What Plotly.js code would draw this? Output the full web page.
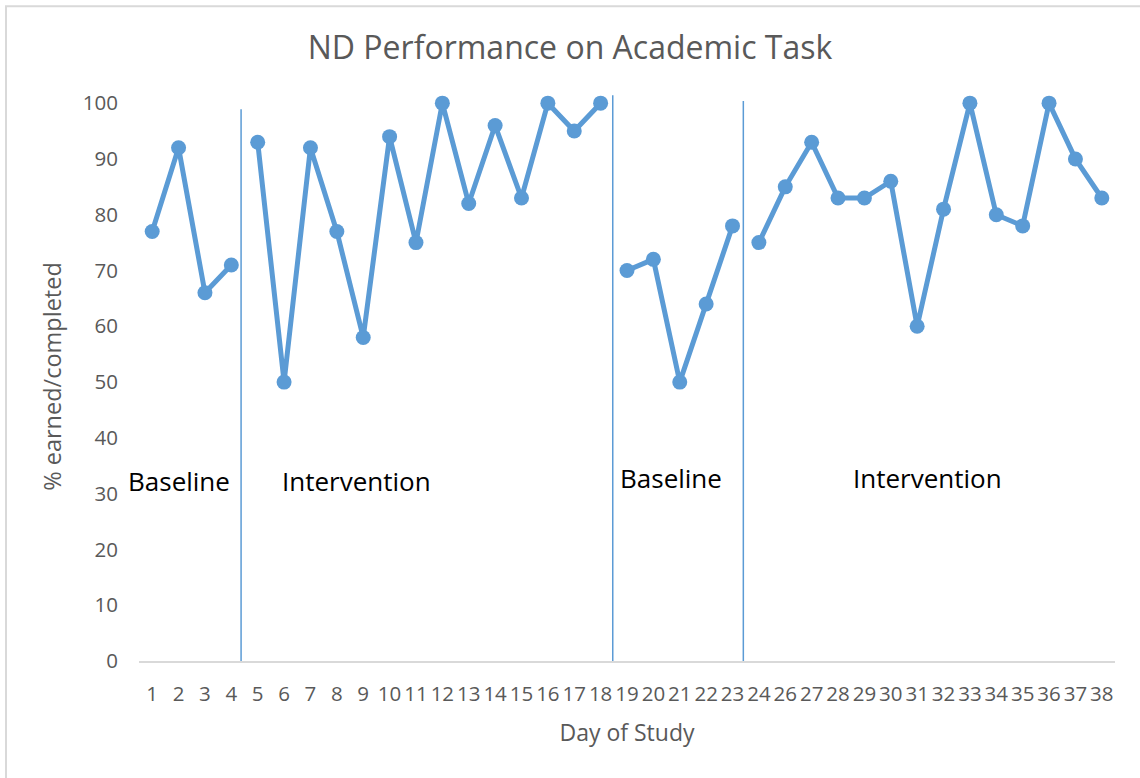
<!DOCTYPE html>
<html>
<head>
<meta charset="utf-8">
<script src="https://cdn.plot.ly/plotly-3.0.1.min.js"></script>
<style>html,body{margin:0;padding:0;background:#fff;}#chart{width:1140px;height:778px;}</style>
</head>
<body>
<div id="chart"></div>
<script>
// Day labels (day 25 absent in the original)
const days = ["1","2","3","4","5","6","7","8","9","10","11","12","13","14","15","16","17","18","19","20","21","22","23","24","26","27","28","29","30","31","32","33","34","35","36","37","38"];

// Phase 1: Baseline
const baseline1Days = ["1","2","3","4"];
const baseline1Vals = [77, 92, 66, 71];
// Phase 2: Intervention
const intervention1Days = ["5","6","7","8","9","10","11","12","13","14","15","16","17","18"];
const intervention1Vals = [93, 50, 92, 77, 58, 94, 75, 100, 82, 96, 83, 100, 95, 100];
// Phase 3: Baseline
const baseline2Days = ["19","20","21","22","23"];
const baseline2Vals = [70, 72, 50, 64, 78];
// Phase 4: Intervention
const intervention2Days = ["24","26","27","28","29","30","31","32","33","34","35","36","37","38"];
const intervention2Vals = [75, 85, 93, 83, 83, 86, 60, 81, 100, 80, 78, 100, 90, 83];

// Phase labels
const phaseLabels = ["Baseline", "Intervention", "Baseline", "Intervention"];

const blue = "#5B9BD5";
function phaseTrace(x, y) {
  return {
    x: x, y: y, type: "scatter", mode: "lines+markers",
    line: {color: blue, width: 5},
    marker: {color: blue, size: 15},
    showlegend: false, hoverinfo: "x+y", cliponaxis: false
  };
}

const data = [
  phaseTrace(baseline1Days, baseline1Vals),
  phaseTrace(intervention1Days, intervention1Vals),
  phaseTrace(baseline2Days, baseline2Vals),
  phaseTrace(intervention2Days, intervention2Vals)
];

function vline(xpos, ytop) {
  return {type: "line", xref: "x", yref: "y", x0: xpos, x1: xpos, y0: 0, y1: ytop,
          line: {color: blue, width: 1.5}};
}

const labelFont = {family: "Open Sans, sans-serif", size: 26, color: "#000000"};

const layout = {
  width: 1140, height: 778,
  margin: {l: 139, r: 25, t: 91.8, b: 117},
  paper_bgcolor: "#ffffff", plot_bgcolor: "#ffffff",
  font: {family: "Open Sans, sans-serif", color: "#595959"},
  title: {text: "ND Performance on Academic Task", x: 0.5, xanchor: "center", y: 0.939, yanchor: "middle",
          font: {family: "Open Sans, sans-serif", size: 32, color: "#595959"}},
  xaxis: {
    type: "category", categoryorder: "array", categoryarray: days,
    range: [-0.5, days.length - 0.5],
    tickmode: "array", tickvals: days, ticktext: days,
    tickangle: 0, tickfont: {size: 20.5, color: "#595959"},
    showgrid: false, zeroline: false, showline: true, linecolor: "#d9d9d9", linewidth: 2,
    ticks: "", ticklabelstandoff: 13,
    title: {text: "Day of Study", font: {size: 23, color: "#595959"}, standoff: 19}
  },
  yaxis: {
    range: [0, 102], tickmode: "array", tickvals: [0,10,20,30,40,50,60,70,80,90,100],
    tickfont: {size: 20.5, color: "#595959"},
    showgrid: false, zeroline: false, showline: false, ticks: "", ticklabelstandoff: 20,
    title: {text: "% earned/completed", font: {size: 23.5, color: "#595959"}, standoff: 14}
  },
  shapes: [
    vline(3.37, 98.9),
    vline(17.46, 101.4),
    vline(22.41, 100.4),
    {type: "rect", xref: "paper", yref: "paper",
     x0: -133/976, x1: 1.05, y0: -0.3, y1: 1 + (91.8 - 6)/569.2,
     line: {color: "#d9d9d9", width: 2}, fillcolor: "rgba(0,0,0,0)", layer: "below"}
  ],
  annotations: [
    {text: phaseLabels[0], xref: "paper", yref: "y", x: (179 - 139)/976, y: 32.3, showarrow: false, font: labelFont, xanchor: "center"},
    {text: phaseLabels[1], xref: "paper", yref: "y", x: (356 - 139)/976, y: 32.3, showarrow: false, font: labelFont, xanchor: "center"},
    {text: phaseLabels[2], xref: "paper", yref: "y", x: (671 - 139)/976, y: 32.8, showarrow: false, font: labelFont, xanchor: "center"},
    {text: phaseLabels[3], xref: "paper", yref: "y", x: (927 - 139)/976, y: 32.8, showarrow: false, font: labelFont, xanchor: "center"}
  ]
};

Plotly.newPlot("chart", data, layout, {displayModeBar: false, staticPlot: true});
</script>
</body>
</html>
